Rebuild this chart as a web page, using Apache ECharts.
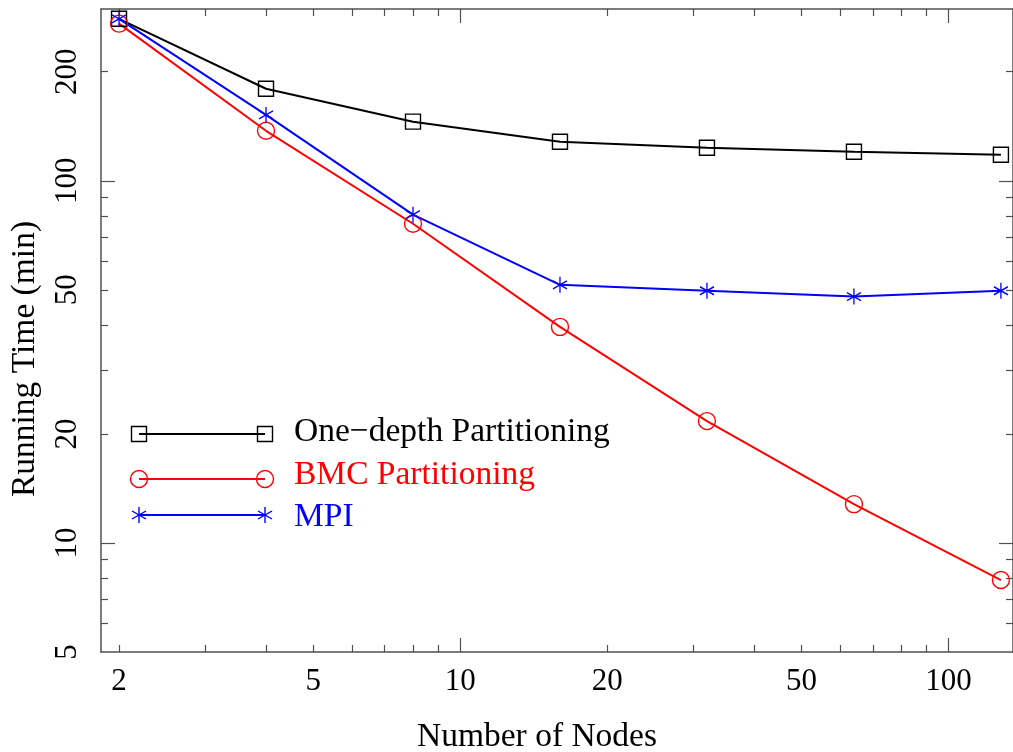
<!DOCTYPE html>
<html>
<head>
<meta charset="utf-8">
<script src="https://cdn.jsdelivr.net/npm/echarts@6/dist/echarts.min.js"></script>
<style>
  html, body { margin: 0; padding: 0; background: #fff; }
  #chart { width: 1013px; height: 752px; }
</style>
</head>
<body>
<div id="chart"></div>
<script>
// ---- data ----
const nodes = [2, 4, 8, 16, 32, 64, 128];
const oneDepth = [280, 179.5, 145.6, 128.1, 123.3, 120.2, 118];
const bmc = [271.5, 137.4, 76.1, 39.5, 21.7, 12.8, 7.9];
const mpi = [280, 152, 80.6, 51.6, 49.7, 47.9, 49.7];
const seriesNames = ['One\u2212depth Partitioning', 'BMC Partitioning', 'MPI'];
const xTickLabels = [2, 5, 10, 20, 50, 100];
const yTickLabels = [5, 10, 20, 50, 100, 200];
const xMinorTicks = [2, 3, 4, 5, 6, 7, 8, 9, 20, 30, 40, 50, 60, 70, 80, 90];
const xMajorTicks = [10, 100];
const yMinorTicks = [6, 7, 8, 9, 20, 30, 40, 50, 60, 70, 80, 90, 200];
const yMajorTicks = [10, 100];
const xMin = 1.837, xMax = 135.5, yMin = 5, yMax = 298;

const FONT = '"Liberation Serif", "DejaVu Serif", serif';
const AX = '#505050';

function xAx(pos, ticks, len, showLine, labels) {
  return {
    type: 'log', logBase: 10, position: pos, min: xMin, max: xMax,
    axisLine: { show: showLine, onZero: false, lineStyle: { color: AX, width: 1.5 } },
    axisTick: { show: true, inside: true, length: len, customValues: ticks, lineStyle: { color: AX, width: 1.2 } },
    minorTick: { show: false },
    axisLabel: labels ? { show: true, customValues: labels, margin: 14, fontFamily: FONT, fontSize: 31, color: '#000' } : { show: false },
    splitLine: { show: false }
  };
}
function yAx(pos, ticks, len, showLine, labels) {
  return {
    type: 'log', logBase: 10, position: pos, min: yMin, max: yMax,
    axisLine: { show: showLine, onZero: false, lineStyle: { color: AX, width: 1.5 } },
    axisTick: { show: true, inside: true, length: len, customValues: ticks, lineStyle: { color: AX, width: 1.2 } },
    minorTick: { show: false },
    axisLabel: labels ? { show: true, customValues: labels, rotate: 90, margin: 18, fontFamily: FONT, fontSize: 31, color: '#000' } : { show: false },
    splitLine: { show: false }
  };
}

const starPath = 'path://M0,-1L0,1M-0.866,-0.5L0.866,0.5M-0.866,0.5L0.866,-0.5';

function pts(vals) { return nodes.map((n, i) => [n, vals[i]]); }

const chart = echarts.init(document.getElementById('chart'), null, { renderer: 'canvas' });

// legend drawn as graphic (line with symbol at both ends)
const legRows = [
  { y: 434, ty: 432, color: '#000000', sym: 'rect' },
  { y: 479, ty: 475, color: '#ff0000', sym: 'circle' },
  { y: 515, ty: 517, color: '#0000ff', sym: 'star' }
];
const lx0 = 139, lx1 = 265, ltx = 294;
const TFS = 33.5;
const graphics = [];
legRows.forEach((r, i) => {
  graphics.push({ type: 'line', shape: { x1: lx0, y1: r.y, x2: lx1, y2: r.y }, style: { stroke: r.color, lineWidth: 2 } });
  [lx0, lx1].forEach(x => {
    if (r.sym === 'rect') {
      graphics.push({ type: 'rect', shape: { x: x - 7.5, y: r.y - 7.5, width: 15, height: 15 }, style: { fill: 'none', stroke: r.color, lineWidth: 1.4 } });
    } else if (r.sym === 'circle') {
      graphics.push({ type: 'circle', shape: { cx: x, cy: r.y, r: 8.5 }, style: { fill: 'none', stroke: r.color, lineWidth: 1.4 } });
    } else {
      graphics.push({ type: 'polyline', shape: { points: [[x, r.y - 8], [x, r.y + 8]] }, style: { stroke: r.color, lineWidth: 1.4 } });
      graphics.push({ type: 'polyline', shape: { points: [[x - 7, r.y - 4], [x + 7, r.y + 4]] }, style: { stroke: r.color, lineWidth: 1.4 } });
      graphics.push({ type: 'polyline', shape: { points: [[x - 7, r.y + 4], [x + 7, r.y - 4]] }, style: { stroke: r.color, lineWidth: 1.4 } });
    }
  });
  graphics.push({ type: 'text', x: ltx, y: r.ty, style: { text: seriesNames[i], fill: r.color, font: TFS + 'px ' + FONT, verticalAlign: 'middle' } });
});
graphics.push({ type: 'text', x: 537, y: 737, style: { text: 'Number of Nodes', fill: '#000', font: TFS + 'px ' + FONT, align: 'center', verticalAlign: 'middle' } });
graphics.push({ type: 'text', x: 25, y: 359, rotation: Math.PI / 2, style: { text: 'Running Time (min)', fill: '#000', font: TFS + 'px ' + FONT, align: 'center', verticalAlign: 'middle' } });

chart.setOption({
  animation: false,
  backgroundColor: '#fff',
  grid: { left: 101, top: 9, width: 912, height: 643, containLabel: false },
  xAxis: [
    xAx('bottom', xMinorTicks, 7, true, xTickLabels),
    xAx('bottom', xMajorTicks, 14, false, null),
    xAx('top', xMinorTicks, 7, true, null),
    xAx('top', xMajorTicks, 14, false, null)
  ],
  yAxis: [
    yAx('left', yMinorTicks, 7, true, yTickLabels),
    yAx('left', yMajorTicks, 14, false, null),
    yAx('right', yMinorTicks, 7, true, null),
    yAx('right', yMajorTicks, 14, false, null)
  ],
  series: [
    { name: seriesNames[0], type: 'line', data: pts(oneDepth), symbol: 'rect', symbolSize: 15,
      lineStyle: { color: '#000', width: 2 }, itemStyle: { color: 'transparent', borderColor: '#000', borderWidth: 1.4 }, z: 3 },
    { name: seriesNames[1], type: 'line', data: pts(bmc), symbol: 'circle', symbolSize: 17,
      lineStyle: { color: '#ff0000', width: 2 }, itemStyle: { color: 'transparent', borderColor: '#ff0000', borderWidth: 1.4 }, z: 3 },
    { name: seriesNames[2], type: 'line', data: pts(mpi), symbol: starPath, symbolSize: [14, 16],
      lineStyle: { color: '#0000ff', width: 2 }, itemStyle: { color: 'transparent', borderColor: '#0000ff', borderWidth: 1.4 }, z: 3 }
  ],
  graphic: graphics
});
</script>
</body>
</html>
